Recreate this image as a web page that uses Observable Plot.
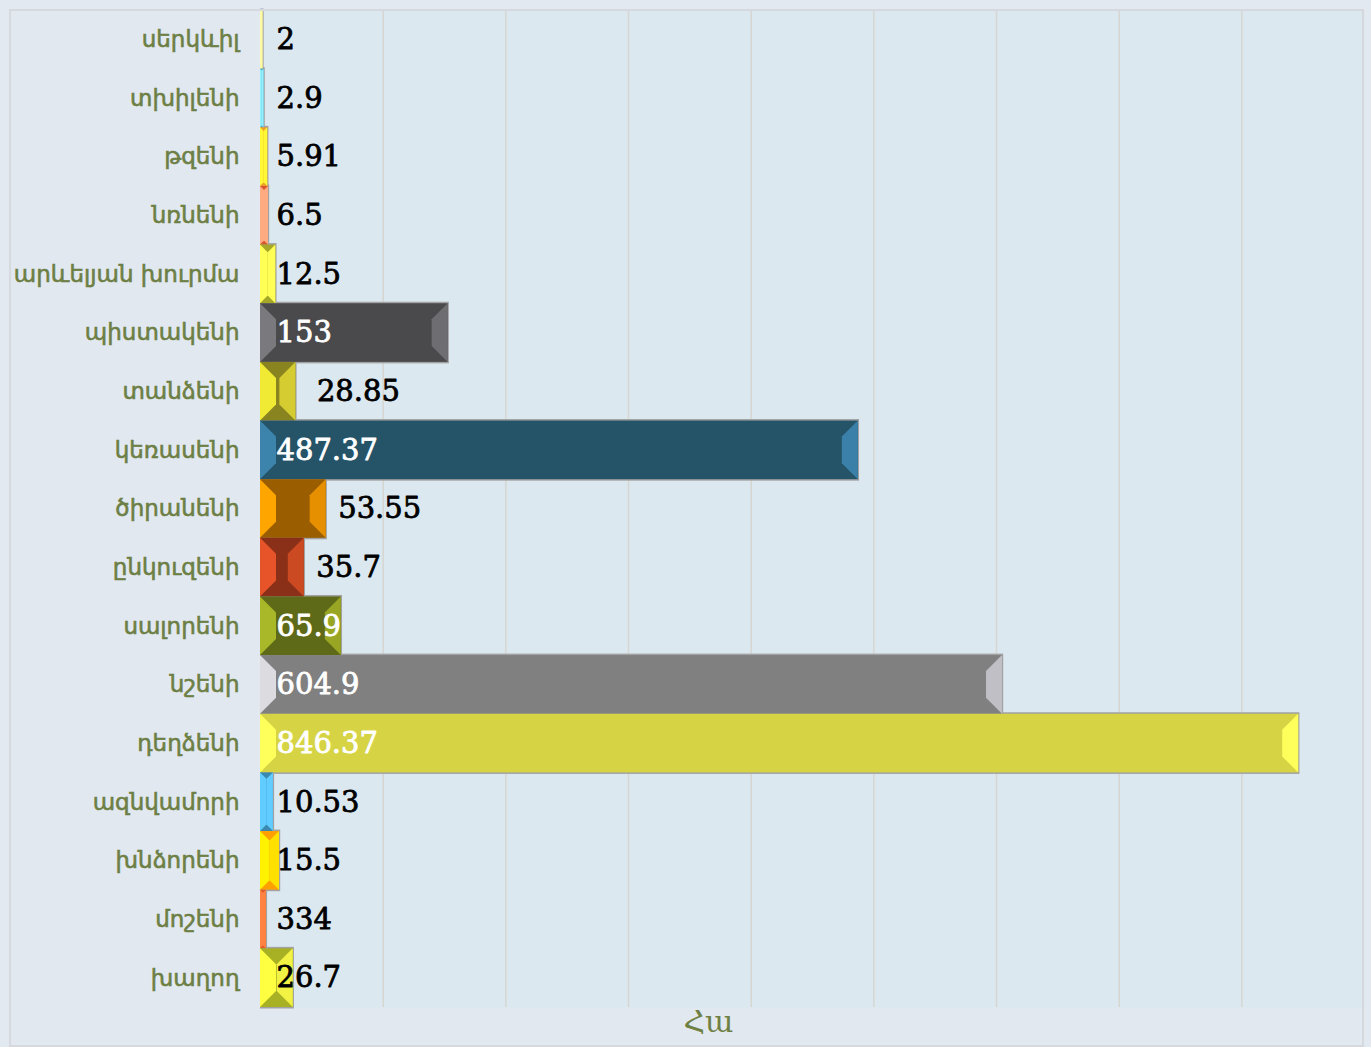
<!DOCTYPE html>
<html>
<head>
<meta charset="utf-8">
<script src="https://cdn.jsdelivr.net/npm/d3@7"></script>
<script src="https://cdn.jsdelivr.net/npm/@observablehq/plot@0.6"></script>
<style>
  html, body { margin: 0; padding: 0; background: #e2e9f1; }
  #wrap { position: relative; width: 1371px; height: 1047px; overflow: hidden; }
  #panel { position: absolute; left: 9px; top: 9px; width: 1351px; height: 1034px; background: #e1e8f0; }
  #border { position: absolute; left: 9px; top: 9px; width: 1351px; height: 1034px; border: 2px solid #d5d9de; pointer-events: none; }
  #chart { position: absolute; left: 0; top: 0; }
  #xtitle { position: absolute; left: 23px; width: 1371px; top: 1004px; text-align: center;
            font-family: "DejaVu Serif", serif; font-size: 30px; color: #6f8044; }
  .ylab text { paint-order: stroke; stroke: #6d7f45; stroke-width: 0.6px; }
  .vlab text { paint-order: stroke; stroke-width: 0.8px; }
</style>
</head>
<body>
<div id="wrap">
  <div id="panel"></div>
  <div id="chart"></div>
  <div id="border"></div>
  <div id="xtitle">Հա</div>
</div>
<script>
const categories = ["սերկևիլ","տխիլենի","թզենի","նռնենի","արևելյան խուրմա","պիստակենի","տանձենի","կեռասենի","ծիրանենի","ընկուզենի","սալորենի","նշենի","դեղձենի","ազնվամորի","խնձորենի","մոշենի","խաղող"];
const values = [2, 2.9, 5.91, 6.5, 12.5, 153, 28.85, 487.37, 53.55, 35.7, 65.9, 604.9, 846.37, 10.53, 15.5, 4.8, 26.7];
const valueLabels = ["2","2.9","5.91","6.5","12.5","153","28.85","487.37","53.55","35.7","65.9","604.9","846.37","10.53","15.5","334","26.7"];
const mainColors = ["#f3ee8c","#4fa9c4","#f0a028","#d8582c","#a6a628","#4a4a4c","#8a8420","#255368","#9a5e00","#8a3018","#5f6a18","#808080","#d6d444","#3a8ab0","#ffa000","#e05a2a","#a8b024"];
const capLeftColors = ["#fffba6","#92f0ff","#fff833","#ffab82","#ffff55","#7a797e","#f0ea35","#3d84ac","#ffa500","#e8542a","#a8b828","#dcdbe0","#ffff5c","#60ccff","#fff200","#ff8442","#ffff42"];
const capRightColors = ["#fffba6","#92f0ff","#fff833","#ffab82","#ffff55","#6e6d72","#d4cc30","#3a80a8","#e69000","#cc4a22","#98a624","#c0bfc5","#ffff5c","#60ccff","#ffe000","#ff8442","#f2f244"];
const gridTicks = [100, 200, 300, 400, 500, 600, 700, 800];
const outsideNear = new Set(["ծիրանենի","ընկուզենի"]);
const outsideFar = new Set(["տանձենի"]);

const idx = d3.range(categories.length);

function bevelBars(index, scales) {
  const x = scales.x, y = scales.y;
  const bw = (y.bandwidth ? y.bandwidth() : scales.scales.y.bandwidth);
  const g = d3.create("svg:g");
  idx.forEach(i => {
    const x0 = x(0), x1 = x(values[i]), y0 = y(categories[i]);
    g.append("rect").attr("x", x0).attr("y", y0 - 1.5)
      .attr("width", x1 - x0 + 1.2).attr("height", bw + 3).attr("fill", "#a2a2a2");
  });
  idx.forEach(i => {
    const x0 = x(0), x1 = x(values[i]), y0 = y(categories[i]), y1 = y0 + bw;
    const w = x1 - x0;
    const c = Math.min(16, w / 2);
    g.append("rect").attr("x", x0).attr("y", y0).attr("width", w).attr("height", bw).attr("fill", mainColors[i]);
    g.append("path").attr("fill", capLeftColors[i])
      .attr("d", `M${x0},${y0}L${x0 + c},${y0 + c}L${x0 + c},${y1 - c}L${x0},${y1}Z`);
    g.append("path").attr("fill", capRightColors[i])
      .attr("d", `M${x1},${y0}L${x1 - c},${y0 + c}L${x1 - c},${y1 - c}L${x1},${y1}Z`);
  });
  return g.node();
}

const labelFill = i => values[i] > 60 ? "#ffffff" : "#000000";
const textOpts = { textAnchor: "start", fill: labelFill, stroke: labelFill, fontSize: 29,
                   fontFamily: "DejaVu Serif", className: "vlab", y: i => categories[i], text: i => valueLabels[i] };

const chart = Plot.plot({
  width: 1371,
  height: 1047,
  marginLeft: 260,
  marginRight: 7,
  marginTop: 10,
  marginBottom: 40,
  style: { background: "transparent", overflow: "visible" },
  x: { domain: [0, 900], axis: null },
  y: { type: "band", domain: categories, padding: 0, round: false, axis: null },
  marks: [
    Plot.frame({ fill: "#dce8f0", stroke: "none" }),
    Plot.gridX(gridTicks, { stroke: "#d6d6d2", strokeOpacity: 1, strokeWidth: 1.6 }),
    bevelBars,
    Plot.axisY({ tickSize: 0, tickPadding: 21, fontSize: 23, fontFamily: "DejaVu Sans",
                 fill: "#6d7f45", label: null, className: "ylab" }),
    Plot.text(idx.filter(i => !outsideNear.has(categories[i]) && !outsideFar.has(categories[i])), {
      ...textOpts, x: 0, dx: 16
    }),
    Plot.text(idx.filter(i => outsideNear.has(categories[i])), {
      ...textOpts, x: i => values[i], dx: 12
    }),
    Plot.text(idx.filter(i => outsideFar.has(categories[i])), {
      ...textOpts, x: i => values[i], dx: 21
    })
  ]
});
document.getElementById("chart").appendChild(chart);
</script>
</body>
</html>
